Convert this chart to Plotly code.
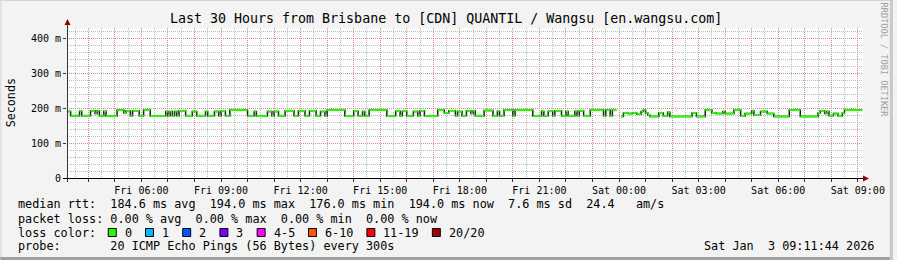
import plotly.graph_objects as go
from datetime import datetime, timedelta

# ---------------- data ----------------
title_text = "Last 30 Hours from Brisbane to [CDN] QUANTIL / Wangsu [en.wangsu.com]"
range_start = "2026-01-02 03:11:44"
range_end = "2026-01-03 09:11:44"
data_start = "2026-01-02 03:10:00"
step_minutes = 5

# median RTT (ms) per run of 5-minute steps; None = no data
seg_rtt_ms = [
    190, 178, 191, 178, 192, 184, 192, 178, 191, 177,
    194, 186, 192, 178, 192, 178, 194, 177,
    190, 178, 190, 178, 190, 178,
    192, 178, 190, 178, 190, 178, 190, 178, 191, 178,
    194, 178, 190, 177, 190, 178, 190, 178,
    192, 178, 192, 178, 192, 178, 190, 178,
    194, 177,
    191, 178, 190, 178,
    194,
    177, 191, 178, 191, 178, 190, 178, 192, 177,
    194, 186, 192, 178, 190, 178,
    192, 184, 192, 178, 193, 178, 191, 178, 194, 178, 194,
    177, 191, 178, 191, 178, 192, 178, 190, 178, 191,
    178, 192, 178,
    194, 178, 194, 178, 194,
    None,
    176, 186, 184, 186, 182, 190, 194, 186, 180, 176, 186, 178, 188, 176,
    186, 176, 194, 186, 184, 190, 184, 194, 178, 184, 192, 180, 190, 184,
    176, 194, 176, 186, 192, 184, 190, 178, 184, 178, 186, 194,
]
seg_steps = [
    2, 4, 1, 4, 2, 1, 1, 2, 1, 5,
    3, 1, 2, 1, 3, 2, 3, 7,
    1, 1, 1, 1, 1, 1,
    3, 3, 2, 4, 1, 3, 2, 1, 2, 2,
    8, 3, 1, 5, 2, 1, 2, 3,
    4, 2, 3, 2, 3, 2, 2, 1,
    8, 4,
    2, 2, 1, 2,
    8,
    4, 2, 1, 2, 3, 2, 1, 2, 6,
    3, 2, 3, 1, 2, 2,
    2, 1, 1, 4, 4, 2, 1, 2, 4, 1, 8,
    4, 1, 2, 2, 1, 3, 2, 1, 3, 1,
    1, 2, 3,
    6, 1, 2, 1, 2,
    2,
    1, 2, 2, 2, 2, 1, 1, 1, 1, 4, 2, 2, 1, 10,
    2, 4, 3, 2, 3, 1, 4, 3, 2, 3, 1, 3, 3, 3,
    7, 5, 8, 1, 2, 1, 1, 2, 2, 2, 1, 8,
]

y_tick_vals = [0, 100, 200, 300, 400]
y_tick_text = ["0", "100 m", "200 m", "300 m", "400 m"]
y_max = 428.6

loss_labels = ["0", "1", "2", "3", "4-5", "6-10", "11-19", "20/20"]
loss_colors = ["#26ff00", "#00b8ff", "#0059ff", "#7e00ff", "#ff00ff", "#ff5500", "#ff0000", "#a00000"]

line_median = "median rtt:  184.6 ms avg  194.0 ms max  176.0 ms min  194.0 ms now  7.6 ms sd  24.4   am/s"
line_loss = "packet loss: 0.00 % avg  0.00 % max  0.00 % min  0.00 % now"
line_color = "loss color:"
line_probe = "probe:       20 ICMP Echo Pings (56 Bytes) every 300s"
stamp_text = "Sat Jan  3 09:11:44 2026"
credit_text = "RRDTOOL / TOBI OETIKER"

# ---------------- build series ----------------
t0 = datetime.strptime(data_start, "%Y-%m-%d %H:%M:%S")
dt = timedelta(minutes=step_minutes)

step_x, step_y = [], []
green_x, green_y = [], []
t = t0
for v, n in zip(seg_rtt_ms, seg_steps):
    t_end = t + dt * n
    for k in range(n):
        step_x.append(t + dt * k)
        step_y.append(v)
    if v is not None:
        green_x += [t, t_end, None]
        green_y += [v, v, None]
    t = t_end
step_x.append(t)
step_y.append(seg_rtt_ms[-1])

# ---------------- layout helpers ----------------
W, H = 897, 260
L, R, T, B = 67, 867, 28, 178
ml, mr, mt, mb = L, W - R, T, H - B
FONT = "DejaVu Sans Mono"


def px(x):
    return (x - L) / (R - L)


def py(y):
    return (B - y) / (B - T)


fig = go.Figure()
fig.add_trace(go.Scatter(x=step_x, y=step_y, mode="lines",
                         line=dict(shape="hv", color="#1e1e1e", width=1.5),
                         connectgaps=False, hoverinfo="skip", showlegend=False))
fig.add_trace(go.Scatter(x=green_x, y=green_y, mode="lines",
                         line=dict(color=loss_colors[0], width=2),
                         hoverinfo="skip", showlegend=False))

rs = datetime.strptime(range_start, "%Y-%m-%d %H:%M:%S")
re_ = datetime.strptime(range_end, "%Y-%m-%d %H:%M:%S")
hour = rs.replace(minute=0, second=0) + timedelta(hours=1)
x_tick_vals, x_tick_text = [], []
while hour <= re_:
    x_tick_vals.append(hour)
    x_tick_text.append(hour.strftime("%a %H:%M") if hour.hour % 3 == 0 else "")
    hour += timedelta(hours=1)

major_grid = "rgba(255,70,70,0.38)"
minor_grid = "#bdbdbd"

fig.update_layout(
    width=W, height=H, autosize=False,
    margin=dict(l=ml, r=mr, t=mt, b=mb, pad=0),
    paper_bgcolor="#f3f3f3", plot_bgcolor="#ffffff",
    font=dict(family=FONT, size=10, color="#000000"),
    xaxis=dict(
        type="date", range=[rs, re_],
        tickmode="array", tickvals=x_tick_vals, ticktext=x_tick_text,
        showgrid=True, gridcolor=major_grid, griddash="1px,1px", gridwidth=1,
        ticks="outside", ticklen=3, tickcolor="#333", showline=False,
        zeroline=False, tickfont=dict(family=FONT, size=10),
        minor=dict(dtick=30 * 60 * 1000, tick0="2026-01-02 00:00:00",
                   showgrid=True, gridcolor=minor_grid, griddash="1px,1px", ticks=""),
        fixedrange=True,
    ),
    yaxis=dict(
        range=[0, y_max], tickmode="array", tickvals=y_tick_vals, ticktext=y_tick_text,
        showgrid=True, gridcolor=major_grid, griddash="1px,1px", gridwidth=1,
        ticks="outside", ticklen=3, tickcolor="#333", showline=False,
        zeroline=False, tickfont=dict(family=FONT, size=10),
        minor=dict(dtick=20, tick0=0, showgrid=True, gridcolor=minor_grid,
                   griddash="1px,1px", ticks=""),
        fixedrange=True,
    ),
)

shapes = []
# frame of the whole picture
shapes.append(dict(type="rect", xref="paper", yref="paper", x0=px(0), x1=px(W), y0=py(0), y1=py(1),
                   line=dict(width=0), fillcolor="#d4d4d4", layer="above"))
shapes.append(dict(type="rect", xref="paper", yref="paper", x0=px(0), x1=px(1), y0=py(0), y1=py(H),
                   line=dict(width=0), fillcolor="#d4d4d4", layer="above"))
shapes.append(dict(type="rect", xref="paper", yref="paper", x0=px(0), x1=px(W), y0=py(H - 3), y1=py(H),
                   line=dict(width=0), fillcolor="#a2a2a2", layer="above"))
shapes.append(dict(type="rect", xref="paper", yref="paper", x0=px(W - 3), x1=px(W), y0=py(0), y1=py(H),
                   line=dict(width=0), fillcolor="#c8c8c8", layer="above"))
# axes
shapes.append(dict(type="line", xref="paper", yref="paper", x0=px(63), x1=px(869), y0=py(178.5), y1=py(178.5),
                   line=dict(color="#000000", width=1), layer="above"))
shapes.append(dict(type="line", xref="paper", yref="paper", x0=px(67.5), x1=px(67.5), y0=py(182), y1=py(24),
                   line=dict(color="#333333", width=1), layer="above"))
# arrow heads
shapes.append(dict(type="path", xref="paper", yref="paper",
                   path=f"M {px(64.5)} {py(25)} L {px(70.5)} {py(25)} L {px(67.5)} {py(19)} Z",
                   line=dict(width=0), fillcolor="#8b0000", layer="above"))
shapes.append(dict(type="path", xref="paper", yref="paper",
                   path=f"M {px(867)} {py(175.5)} L {px(867)} {py(181.5)} L {px(873)} {py(178.5)} Z",
                   line=dict(width=0), fillcolor="#8b0000", layer="above"))

annotations = []


def text(x, y, s, size=11.8, xanchor="left", color="#000000", angle=0):
    annotations.append(dict(x=px(x), y=py(y), xref="paper", yref="paper", text=s, showarrow=False,
                            xanchor=xanchor, yanchor="middle", textangle=angle,
                            font=dict(family=FONT, size=size, color=color)))


text(448, 19, title_text, size=13.3, xanchor="center")
text(11, 103, "Seconds", size=11.7, xanchor="center", angle=-90)
text(888.5, 60, credit_text, size=8.6, xanchor="center", color="#a0a0a0", angle=90)
text(16, 204, line_median.replace(" ", "&nbsp;"))
text(16, 218.5, line_loss.replace(" ", "&nbsp;"))
text(16, 232.5, line_color)
text(16, 246.5, line_probe.replace(" ", "&nbsp;"))
text(880, 246.5, stamp_text.replace(" ", "&nbsp;"), xanchor="right")

sq_x = 108.0
for lab, col in zip(loss_labels, loss_colors):
    shapes.append(dict(type="rect", xref="paper", yref="paper",
                       x0=px(sq_x + 0.5), x1=px(sq_x + 8.5), y0=py(236.5), y1=py(228.5),
                       line=dict(color="#000000", width=1), fillcolor=col, layer="above"))
    text(sq_x + 15, 232.5, lab)
    sq_x += 15 + 7.1 * len(lab) + 15.3

fig.update_layout(shapes=shapes, annotations=annotations)
fig.write_html("out.html")
